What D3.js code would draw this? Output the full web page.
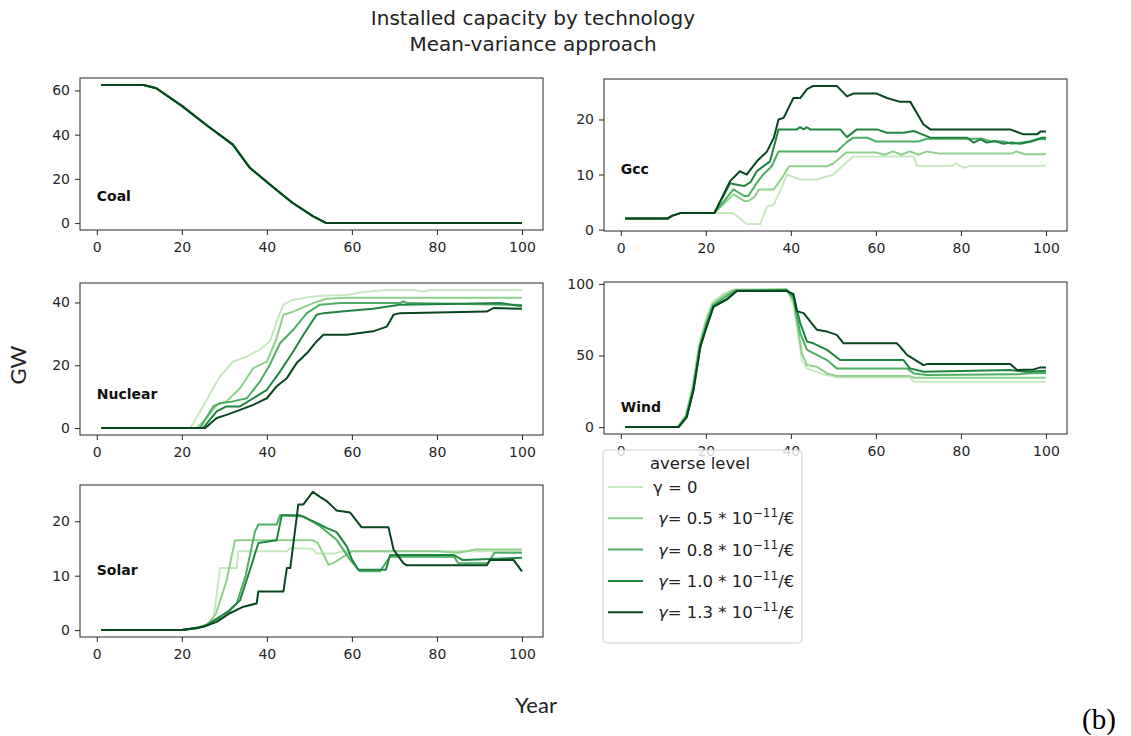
<!DOCTYPE html>
<html lang="en">
<head>
  <meta charset="UTF-8">
  <title>Installed capacity by technology</title>
  <script src="https://d3js.org/d3.v7.min.js"></script>
  <style>
    body { margin: 0; background: #fff; font-family: "DejaVu Sans", sans-serif; }
    .tick text { font-size: 14px; fill: #262626; font-family: "DejaVu Sans", sans-serif; }
    .tick line { stroke: #262626; }
    .frame { fill: none; stroke: #262626; stroke-width: 1; }
    .series { fill: none; stroke-width: 2; stroke-linejoin: round; }
  </style>
</head>
<body>
  <div id="chart"></div>
  <script>
    // Risk-aversion levels (legend order, lightest first)
    const gammaCoef = ["0", "0.5", "0.8", "1.0", "1.3"];
    const colors = ["#c7e9c0", "#8fd18b", "#4caf63", "#1f8441", "#08461f"];

    const xTicks = [0, 20, 40, 60, 80, 100];

    // [year, GW] points, one list per gamma
    const coalPath = [[1,62.5],[11,62.5],[14,61],[20,53],[26,44],[32,35.5],[36,25],[41,17],[46,9.2],[51,2.9],[54,0],[100,0]];
    const coal = [coalPath, coalPath, coalPath, coalPath, coalPath];

    const gcc = [
      [[1,2],[11,2],[12,2.5],[14,3],[26.5,3],[29.6,1],[32.8,1],[34.4,4.2],[35.9,4.5],[37.5,7],[39.1,10],[42.2,9.1],[46.1,9.1],[50,10],[51.6,11.2],[54.7,13.3],[68.9,13.3],[69.6,11.6],[78,11.6],[78.8,12.1],[79.6,11.6],[81,11.2],[82,11.6],[100,11.6]],
      [[1,2],[11,2],[12,2.5],[14,3],[22,3],[26.5,6.4],[29,5.2],[30,5.2],[31.5,6],[32.5,7.3],[36,7.3],[38,9.5],[39.6,11.5],[48.5,11.5],[50,12],[53,14],[60,14],[62,13.6],[64,14.2],[66,13.6],[68,14.2],[70,13.6],[72,14.2],[75,13.8],[92,13.8],[93,14.2],[95,13.7],[100,13.7]],
      [[1,2],[11,2],[12,2.5],[14,3],[22,3],[26.5,7.3],[29,6.1],[30,6.1],[32,8.5],[33.5,10],[35.5,11.5],[37.1,14.2],[50.8,14.2],[53,15.8],[54.7,16.7],[58,16.7],[60,16],[70,16],[72,16.5],[85,16.5],[87,16],[90,16],[92,15.6],[96,16],[98,16.4],[100,16.4]],
      [[1,2],[11,2],[12,2.5],[14,3],[22,3],[25.7,8.4],[27,8.2],[29,7.9],[30.5,8.6],[32,10.6],[35.1,12.4],[36,15],[37.1,18.2],[41.4,18.2],[42.2,18.6],[43,18.2],[43.8,18.6],[44.5,18.2],[51.6,18.2],[53.2,16.8],[55.5,18.2],[60.2,18.2],[62.6,17.6],[66.5,17.6],[68.9,17.9],[72.8,16.7],[81.4,16.7],[83,15.8],[84.6,16.4],[86.1,15.8],[88,16.1],[90,15.6],[92,15.8],[94,15.6],[97,16.1],[99,16.7],[100,16.7]],
      [[1,2],[11,2],[12,2.5],[14,3],[22,3],[25.7,8.8],[28,10.6],[29.6,10],[32,12.4],[34.4,14.2],[36,16.7],[37.1,20],[38.3,20.3],[40.6,23.9],[42.2,23.9],[43.8,25.5],[45.3,26.1],[50.8,26.1],[53.2,24.2],[54.7,24.7],[60.2,24.7],[62.6,23.9],[65.7,23.2],[68.1,23.2],[71.2,19.1],[72.8,18.2],[91.6,18.2],[94.7,17.3],[97.9,17.3],[98.7,17.8],[100,17.8]]
    ];

    const nuclear = [
      [[1,0],[22,0],[24.3,5.3],[26,9.4],[29,16.5],[32.1,21.2],[35.3,22.8],[38.4,25],[40.7,27.6],[42.3,33.9],[43.9,39.3],[46.2,40.9],[50.9,41.9],[54,42.2],[58.8,42.4],[62.7,43.3],[68.2,44],[74.5,44],[77,43.5],[78.4,44],[100,44]],
      [[1,0],[23.5,0],[25.8,3.2],[28.2,7.4],[30.5,8.5],[33.7,12.7],[36.8,19.1],[40,21.2],[42.3,28.6],[43.9,36.1],[46.2,37.1],[50.9,39.8],[54,41.2],[58.8,41.5],[100,41.5]],
      [[1,0],[24.3,0],[27.4,6.9],[29,7.9],[32,8.5],[35.3,9.5],[38.4,14.9],[40.7,20.2],[43.1,27],[46.2,31.3],[49.4,36.6],[52.5,39.3],[57.3,39.8],[71.3,39.8],[72.1,40.3],[73,39.8],[100,39.2]],
      [[1,0],[25,0],[28.2,5.3],[30.5,6.9],[33.7,6.9],[36.8,9.5],[40,12.2],[43.1,18],[46.2,24.4],[48.6,29.7],[51.7,36.1],[53.3,36.6],[58.8,37.3],[65,38],[71.3,39.3],[82.3,39.5],[95,39.8],[100,38.8]],
      [[1,0],[25.5,0],[28.2,3.2],[30.5,4.2],[33.7,5.8],[36.8,7.4],[40,9.5],[42.3,13.3],[44.7,15.9],[47,20.7],[49.4,23.8],[51.7,27.6],[53.3,29.7],[58.8,29.7],[65,30.8],[68.2,32.3],[69.8,36.1],[71.3,36.6],[91.7,37.1],[93.3,38.2],[100,38]]
    ];

    const wind = [
      [[1,0],[13.3,0],[15.2,8],[16.8,28],[18.4,58],[20,75],[21.5,87],[24,93],[26.5,96],[39,96.5],[40.6,86],[42.6,46.8],[43.8,41],[46.9,37.5],[50.8,34.7],[68,34.7],[68.9,31.6],[100,31.6]],
      [[1,0],[13.4,0],[15.3,8],[16.9,27],[18.5,57],[20.1,74],[21.6,86],[24.3,92],[26.8,96],[39,96],[40.6,88],[42.6,51.5],[43.8,43.3],[46.1,42.2],[48.5,37.5],[50.8,35.6],[68,35.6],[69,34.5],[100,34.5]],
      [[1,0],[13.5,0],[15.4,7.5],[17,26.5],[18.6,57],[20.1,72],[21.7,85],[24.6,91],[27,95.5],[39,96],[40.6,90],[42.2,65.6],[43.8,53.9],[46.1,50.4],[48.5,46.8],[50.8,41],[67.3,41],[68.9,37.5],[72,36.3],[94,37],[96,37.6],[100,37.8]],
      [[1,0],[13.6,0],[15.5,7],[17.1,26],[18.7,56],[20.2,71],[21.8,84.5],[24.9,89.5],[27.3,95],[39,95.5],[40.6,92],[42.2,72.6],[43.8,59.7],[45.3,58.5],[48.5,53.9],[51.6,46.8],[66.5,46.8],[68,41],[71.2,38.6],[91.6,39.8],[95.5,38.6],[100,39.3]],
      [[1,0],[13.6,0],[15.5,7],[17.1,25.8],[18.7,56],[20.2,70],[21.8,84],[24.9,89],[27.3,95],[39,95],[40.6,93],[41.4,81],[43,79.6],[46.1,68],[48.5,66.7],[50.8,64.4],[52.4,58.5],[64.9,58.5],[65.7,56.2],[67.3,50.4],[71.2,43.3],[72,44],[91.6,44],[93.2,39.8],[97.1,40.3],[98.7,41.7],[100,41.7]]
    ];

    const solar = [
      [[1,0],[20,0],[23.5,0.4],[25,0.8],[27.4,1.8],[29,11.4],[32.9,11.4],[33.3,14.5],[44.7,14.5],[45.5,15.1],[50.9,14.9],[51.7,14.1],[56,14.1],[58,14.5],[100,14.5]],
      [[1,0],[20,0],[23.5,0.4],[26,1],[28,3],[30.5,9],[32.5,16.5],[50.9,16.5],[52,16],[54.5,12],[56,12.5],[58,13.5],[60,14.5],[80,14.5],[85,14.2],[87,14.5],[89,14.8],[100,14.8]],
      [[1,0],[20,0],[24,0.4],[26,1],[28,1.8],[30,2.5],[32.9,4.9],[35,10],[37.2,18.1],[38,19.4],[42.3,19.4],[43.1,21.1],[48.6,20.9],[52.5,19.1],[56.4,16.6],[59.6,12.9],[61.9,10.8],[66.6,10.8],[69,13.5],[84,13.5],[85,12.3],[92,12.3],[93.5,14.2],[100,14.2]],
      [[1,0],[20,0],[24,0.4],[26,1],[29,2.5],[31,3.5],[33.7,5.5],[36,11],[38,16],[42.3,16.5],[43.5,21.1],[47.8,21.1],[51.7,19.7],[54,18.8],[56.4,18],[58.8,15.4],[60,13],[61.5,11.1],[68,11.1],[69,13.8],[84,13.8],[86,12.9],[100,13.3]],
      [[1,0],[20,0],[25.1,0.6],[28.2,1.5],[31.3,3.1],[34.5,4.3],[37.6,4.9],[38,7.1],[43.9,7.1],[44.7,11.4],[45.5,11.4],[47.4,23.1],[48.6,23.1],[50.8,25.4],[52.5,24.5],[54.1,23.7],[56.4,22],[59.6,21.6],[62.3,18.9],[68.6,18.9],[69.8,14.8],[72.1,12.3],[72.9,11.9],[91.7,11.9],[92.5,12.9],[98,12.9],[100,10.8]]
    ];

    // Panel layout
    const panels = [
      { name: "Coal",    series: coal,    yTicks: [0, 20, 40, 60],  left: 80,  top: 78,  labelY: 12 },
      { name: "Gcc",     series: gcc,     yTicks: [0, 10, 20],      left: 604, top: 79,  labelY: 11 },
      { name: "Nuclear", series: nuclear, yTicks: [0, 20, 40],      left: 80,  top: 283, labelY: 10.8 },
      { name: "Wind",    series: wind,    yTicks: [0, 50, 100],     left: 604, top: 282, labelY: 14 },
      { name: "Solar",   series: solar,   yTicks: [0, 10, 20],      left: 80,  top: 485, labelY: 11 }
    ];
    const pw = 463, ph = 152;

    const svg = d3.select("#chart").append("svg")
      .attr("width", 1131).attr("height", 736);

    // matplotlib-style 5% margins
    function padded(ext) {
      const d = (ext[1] - ext[0]) * 0.05;
      return [ext[0] - d, ext[1] + d];
    }

    const line = d3.line();

    panels.forEach(p => {
      const all = p.series.flat();
      const x = d3.scaleLinear().domain(padded(d3.extent(all, d => d[0]))).range([0, pw]);
      const y = d3.scaleLinear().domain(padded(d3.extent(all, d => d[1]))).range([ph, 0]);
      line.x(d => x(d[0])).y(d => y(d[1]));

      const g = svg.append("g").attr("transform", `translate(${p.left},${p.top})`);

      g.append("g")
        .attr("transform", `translate(0,${ph})`)
        .call(d3.axisBottom(x).tickValues(xTicks).tickSize(5).tickPadding(7).tickSizeOuter(0))
        .call(a => a.select(".domain").remove());

      g.append("g")
        .call(d3.axisLeft(y).tickValues(p.yTicks).tickSize(5).tickPadding(5).tickSizeOuter(0))
        .call(a => a.select(".domain").remove());

      g.selectAll(".series")
        .data(p.series)
        .join("path")
        .attr("class", "series")
        .attr("stroke", (d, i) => colors[i])
        .attr("d", line);

      g.append("text")
        .attr("x", x(0))
        .attr("y", y(p.labelY))
        .attr("dy", "0.35em")
        .attr("font-size", 14)
        .attr("font-weight", "bold")
        .attr("fill", "#111")
        .text(p.name);

      g.append("rect").attr("class", "frame")
        .attr("x", 0).attr("y", 0).attr("width", pw).attr("height", ph);
    });

    // Titles
    svg.append("text").attr("x", 533).attr("y", 25).attr("text-anchor", "middle")
      .attr("font-size", 20).attr("fill", "#222").text("Installed capacity by technology");
    svg.append("text").attr("x", 533).attr("y", 51).attr("text-anchor", "middle")
      .attr("font-size", 20).attr("fill", "#222").text("Mean-variance approach");

    svg.append("text")
      .attr("transform", "translate(26,365) rotate(-90)")
      .attr("text-anchor", "middle")
      .attr("font-family", "Lato, sans-serif").attr("font-size", 22).attr("fill", "#222")
      .text("GW");

    svg.append("text").attr("x", 536).attr("y", 713).attr("text-anchor", "middle")
      .attr("font-family", "Lato, sans-serif").attr("font-size", 22).attr("fill", "#222")
      .text("Year");

    svg.append("text").attr("x", 1082).attr("y", 729)
      .attr("font-family", "Liberation Serif, serif").attr("font-size", 29).attr("fill", "#000")
      .text("(b)");

    // Legend (semi-transparent, lying over the Wind x labels as in the original)
    const lg = svg.append("g").attr("transform", "translate(603,450)");
    lg.append("rect")
      .attr("width", 199).attr("height", 193).attr("rx", 4)
      .attr("fill", "#fff").attr("fill-opacity", 0.8)
      .attr("stroke", "#d0d0d0");
    lg.append("text").attr("x", 97).attr("y", 19).attr("text-anchor", "middle")
      .attr("font-size", 16.5).attr("fill", "#222").text("averse level");

    gammaCoef.forEach((c, i) => {
      const yy = 37 + i * 31.3;
      lg.append("line").attr("x1", 5).attr("x2", 40).attr("y1", yy).attr("y2", yy)
        .attr("stroke", colors[i]).attr("stroke-width", 2);
      const t = lg.append("text").attr("x", i === 0 ? 50 : 55).attr("y", yy + 6)
        .attr("font-size", 16.5).attr("fill", "#222");
      if (i === 0) {
        t.text("\u03b3 = 0");
      } else {
        t.append("tspan").attr("font-style", "italic").text("\u03b3");
        t.append("tspan").text("= " + c + " * 10");
        t.append("tspan").attr("dy", -7).attr("font-size", 12).text("\u221211");
        t.append("tspan").attr("dy", 7).text("/\u20ac");
      }
    });
  </script>
</body>
</html>
